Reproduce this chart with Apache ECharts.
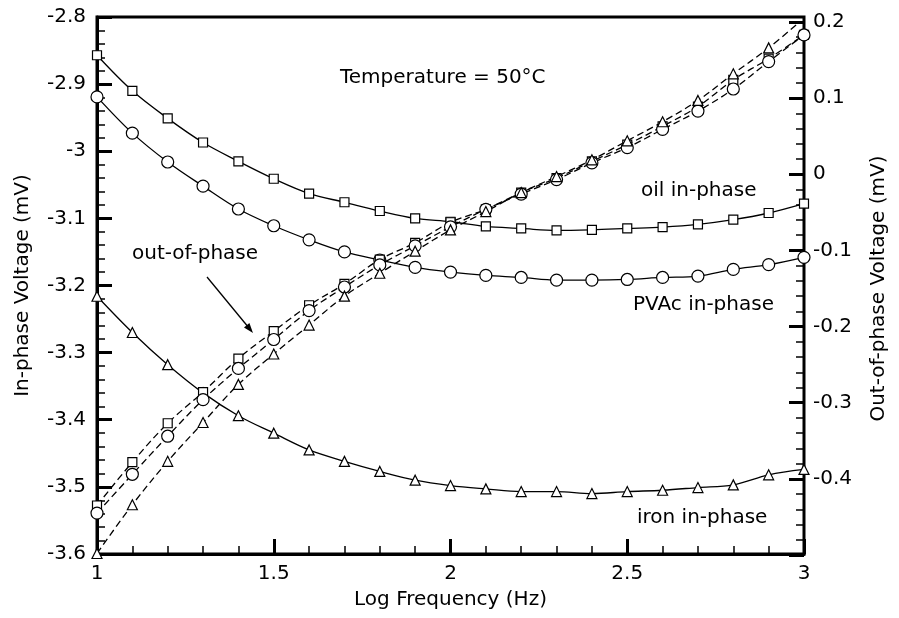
<!DOCTYPE html>
<html><head><meta charset="utf-8">
<script src="https://cdn.jsdelivr.net/npm/echarts@6/dist/echarts.min.js"></script>
<style>html,body{margin:0;padding:0;background:#fff}#c{width:899px;height:618px}</style>
</head><body><div id="c"></div>
<script>
// Log frequency (Hz) sample positions
const logFreq = [1.0,1.1,1.2,1.3,1.4,1.5,1.6,1.7,1.8,1.9,2.0,2.1,2.2,2.3,2.4,2.5,2.6,2.7,2.8,2.9,3.0];

// In-phase voltage (mV), left axis
const oilIn  = [-2.857,-2.910,-2.951,-2.987,-3.015,-3.041,-3.063,-3.076,-3.089,-3.100,-3.105,-3.112,-3.115,-3.118,-3.117,-3.115,-3.113,-3.109,-3.102,-3.092,-3.078];
const pvacIn = [-2.919,-2.973,-3.016,-3.052,-3.086,-3.111,-3.132,-3.150,-3.162,-3.173,-3.180,-3.185,-3.188,-3.192,-3.192,-3.191,-3.188,-3.186,-3.176,-3.169,-3.158];
const ironIn = [-3.216,-3.270,-3.318,-3.360,-3.394,-3.420,-3.445,-3.462,-3.477,-3.490,-3.498,-3.503,-3.507,-3.507,-3.510,-3.507,-3.505,-3.501,-3.497,-3.482,-3.474];

// Out-of-phase voltage (mV), right axis
const oilOut  = [-0.435,-0.378,-0.327,-0.286,-0.242,-0.206,-0.172,-0.144,-0.112,-0.090,-0.063,-0.046,-0.024,-0.005,0.017,0.039,0.063,0.089,0.124,0.152,0.183];
const pvacOut = [-0.445,-0.394,-0.344,-0.296,-0.255,-0.217,-0.179,-0.148,-0.119,-0.094,-0.069,-0.046,-0.026,-0.007,0.015,0.035,0.059,0.083,0.112,0.148,0.183];
const ironOut = [-0.498,-0.434,-0.377,-0.326,-0.276,-0.236,-0.198,-0.160,-0.130,-0.101,-0.073,-0.049,-0.024,-0.003,0.019,0.044,0.069,0.097,0.132,0.166,0.205];

const FONT = '"DejaVu Sans", sans-serif';
const pair = vals => logFreq.map((x, i) => [x, vals[i]]);

const markerStyle = { color: '#fff', borderColor: '#000', borderWidth: 1.2 };
function inSeries(name, vals, symbol, size) {
  return {
    name, type: 'line', xAxisIndex: 0, yAxisIndex: 0, data: pair(vals),
    smooth: 0.35, symbol, symbolSize: size, showAllSymbol: true,
    itemStyle: markerStyle, lineStyle: { color: '#000', width: 1.3 },
    emphasis: { disabled: true }, z: 3
  };
}
function outSeries(name, vals, symbol, size) {
  return {
    name, type: 'line', xAxisIndex: 1, yAxisIndex: 1, data: pair(vals),
    smooth: 0.35, symbol, symbolSize: size, showAllSymbol: true,
    itemStyle: markerStyle, lineStyle: { color: '#000', width: 1.3, type: [7, 4] },
    emphasis: { disabled: true }, z: 3
  };
}

const tickCommon = {
  axisTick: { show: true, inside: true, length: 15, lineStyle: { color: '#000', width: 3 } },
  minorTick: { show: true, splitNumber: 5, length: 8, lineStyle: { color: '#000', width: 1.5 } },
  splitLine: { show: false },
  minorSplitLine: { show: false }
};

const chart = echarts.init(document.getElementById('c'), null, { renderer: 'canvas' });
chart.setOption({
  animation: false,
  backgroundColor: '#fff',
  grid: [
    { left: 97, right: 95, top: 17, bottom: 64, show: true, borderColor: '#000', borderWidth: 3, backgroundColor: 'transparent' },
    { left: 97, right: 95, top: 22, bottom: 63, show: false }
  ],
  xAxis: [
    Object.assign({
      type: 'value', gridIndex: 0, min: 1, max: 3, interval: 0.5, position: 'bottom',
      axisLine: { show: true, lineStyle: { color: '#000', width: 3 } },
      axisLabel: { color: '#000', fontSize: 20, fontFamily: FONT, margin: 10 },
      name: 'Log Frequency (Hz)', nameLocation: 'middle', nameGap: 36,
      nameTextStyle: { color: '#000', fontSize: 20, fontFamily: FONT }
    }, tickCommon),
    { type: 'value', gridIndex: 1, min: 1, max: 3, show: false }
  ],
  yAxis: [
    Object.assign({
      type: 'value', gridIndex: 0, min: -3.6, max: -2.8, interval: 0.1, position: 'left',
      axisLine: { show: true, lineStyle: { color: '#000', width: 3 } },
      axisLabel: { color: '#000', fontSize: 20, fontFamily: FONT, margin: 11,
        formatter: v => String(+v.toFixed(1)) },
      name: 'In-phase Voltage (mV)', nameLocation: 'middle', nameGap: 64,
      nameTextStyle: { color: '#000', fontSize: 20, fontFamily: FONT }
    }, tickCommon),
    Object.assign({
      type: 'value', gridIndex: 1, min: -0.5, max: 0.2, interval: 0.1, position: 'right',
      axisLine: { show: false },
      axisLabel: { color: '#000', fontSize: 20, fontFamily: FONT, margin: 9,
        formatter: v => (Math.abs(v + 0.5) < 1e-6 ? '' : String(+v.toFixed(1))) },
      name: 'Out-of-phase Voltage (mV)', nameLocation: 'middle', nameGap: 65,
      nameTextStyle: { color: '#000', fontSize: 20, fontFamily: FONT }
    }, tickCommon)
  ],
  series: [
    inSeries('oil in-phase', oilIn, 'rect', 9),
    inSeries('PVAc in-phase', pvacIn, 'circle', 12),
    inSeries('iron in-phase', ironIn, 'triangle', 10),
    outSeries('oil out-of-phase', oilOut, 'rect', 9),
    outSeries('PVAc out-of-phase', pvacOut, 'circle', 12),
    outSeries('iron out-of-phase', ironOut, 'triangle', 10)
  ],
  graphic: [
    { type: 'text', left: 340, top: 68, z: 10, style: { text: 'Temperature = 50°C', font: '20px ' + FONT, fill: '#000' } },
    { type: 'text', left: 641, top: 181, z: 10, style: { text: 'oil in-phase', font: '20px ' + FONT, fill: '#000' } },
    { type: 'text', left: 633, top: 295, z: 10, style: { text: 'PVAc in-phase', font: '20px ' + FONT, fill: '#000' } },
    { type: 'text', left: 637, top: 508, z: 10, style: { text: 'iron in-phase', font: '20px ' + FONT, fill: '#000' } },
    { type: 'text', left: 132, top: 244, z: 10, style: { text: 'out-of-phase', font: '20px ' + FONT, fill: '#000' } },
    { type: 'line', z: 10, shape: { x1: 207, y1: 277, x2: 249, y2: 328 }, style: { stroke: '#000', lineWidth: 1.3 } },
    { type: 'polygon', z: 10, shape: { points: [[253, 333], [244, 327.5], [249.4, 323.1]] }, style: { fill: '#000' } }
  ]
});
</script>
</body></html>
